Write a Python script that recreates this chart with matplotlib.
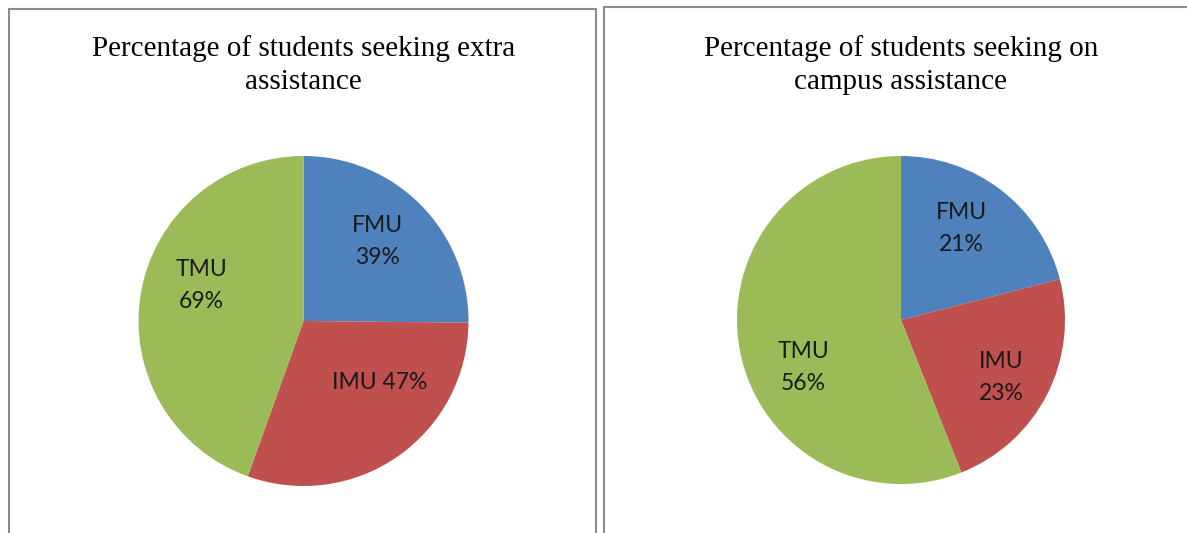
import matplotlib.pyplot as plt
from matplotlib.patches import Rectangle

# data
universities = ['FMU', 'IMU', 'TMU']
extra_assistance = [39, 47, 69]
campus_assistance = [21, 23, 56]
colors = ['#4F81BD', '#C0504D', '#9BBB59']

titles = ['Percentage of students seeking extra\nassistance',
          'Percentage of students seeking on\ncampus assistance']

W, H = 1187, 533


def px_axes(fig, cx, cy, r):
    # square axes centred on pixel (cx, cy) counted from top-left
    return fig.add_axes([(cx - r) / W, (H - cy - r) / H, 2 * r / W, 2 * r / H])


def draw_pie(ax, values, label_pos, one_line=()):
    ax.pie(values, colors=colors, startangle=90, counterclock=False,
           wedgeprops=dict(linewidth=0))
    for i, (name, v) in enumerate(zip(universities, values)):
        txt = f'{name} {v}%' if name in one_line else f'{name}\n{v}%'
        x, y = label_pos[i]
        ax.text(x, y, txt, ha='center', va='center', fontsize=16.5,
                family=['Lato', 'DejaVu Sans'], color='#1a1a1a', linespacing=1.65)
    ax.set_xlim(-1, 1)
    ax.set_ylim(-1, 1)
    ax.axis('off')


fig = plt.figure(figsize=(W / 100, H / 100), dpi=100)

# panel frames
fig.patches.append(Rectangle((9 / W, -0.1), 587 / W, (H - 9) / H + 0.1,
                             transform=fig.transFigure, fill=False,
                             edgecolor='#8c8c8c', linewidth=1.5))
fig.patches.append(Rectangle((604 / W, -0.1), 0.6, (H - 7) / H + 0.1,
                             transform=fig.transFigure, fill=False,
                             edgecolor='#8c8c8c', linewidth=1.5))

ax1 = px_axes(fig, 303.5, 321, 165)
draw_pie(ax1, extra_assistance,
         [(0.45, 0.48), (0.46, -0.37), (-0.62, 0.215)], one_line=('IMU',))

ax2 = px_axes(fig, 901, 320, 164)
draw_pie(ax2, campus_assistance,
         [(0.366, 0.556), (0.61, -0.352), (-0.593, -0.287)])

for cx, t in zip([303.5, 901], titles):
    fig.text(cx / W, 1 - 65 / H, t, ha='center', va='center', fontsize=21,
             family='Liberation Serif', linespacing=1.35)

fig.savefig('out.png', dpi=100)
